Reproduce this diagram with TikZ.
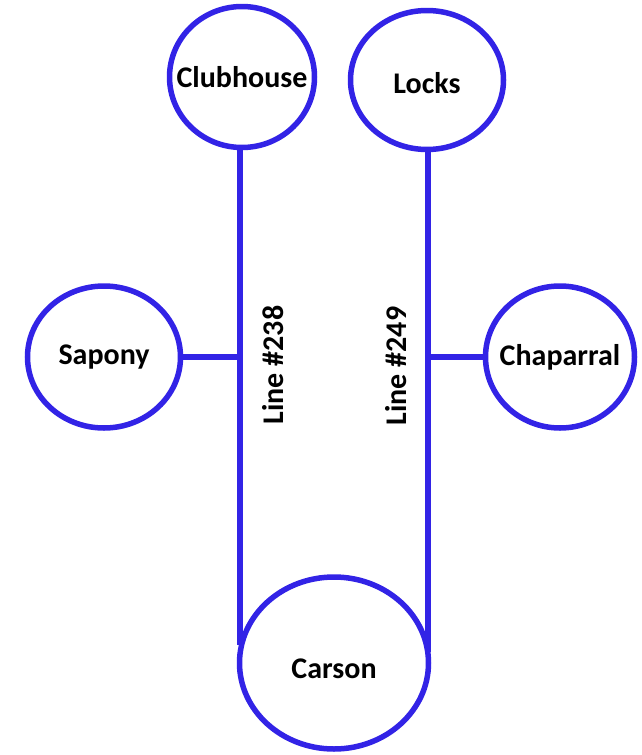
\documentclass[tikz,border=0pt]{standalone}
\usepackage{fontspec}
\setmainfont{Carlito}
\usetikzlibrary{shapes.geometric}
\definecolor{lineblue}{RGB}{50,35,230}
\begin{document}
\begin{tikzpicture}[x=1pt,y=-1pt,
  names/.style={font=\fontsize{30}{36}\selectfont\bfseries,inner sep=0pt},
  station/.style={ellipse,draw=lineblue,line width=5.5pt,fill=white,inner sep=0pt},
  pipe/.style={draw=lineblue,line width=5.5pt},
  linelabel/.style={names,rotate=90}]
\useasboundingbox (0,0) rectangle (641,755);
% transmission lines
\coordinate (endA) at (240,645);
\coordinate (endB) at (428,652);
\node[station,label={[names]center:Clubhouse},minimum width=145pt,minimum height=141pt] (club) at (242,77) {};
\node[station,label={[names,yshift=-3pt]center:Locks},minimum width=153pt,minimum height=139pt] (locks) at (427,80) {};
\node[station,label={[names]center:Sapony},minimum width=153pt,minimum height=142pt] (sapony) at (104,357) {};
\node[station,label={[names]center:Chaparral},minimum width=149pt,minimum height=142pt] (chap) at (560,357) {};
\path[pipe] (240,150) coordinate (clubfoot) -- (endA);
\path[pipe] (428,152) coordinate (locksfoot) -- (endB);
\path[pipe] (sapony.east) -- (sapony.east -| clubfoot);
\path[pipe] (chap.west) -- (chap.west -| locksfoot);
\node[station,fill=none,label={[names,yshift=-6pt]center:Carson},minimum width=189pt,minimum height=172pt] (carson) at (334,663) {};
\node[linelabel] (lbl238) at (273.5,365) {Line \#238};
\node[linelabel] (lbl249) at (396.5,366) {Line \#249};
\end{tikzpicture}
\end{document}
